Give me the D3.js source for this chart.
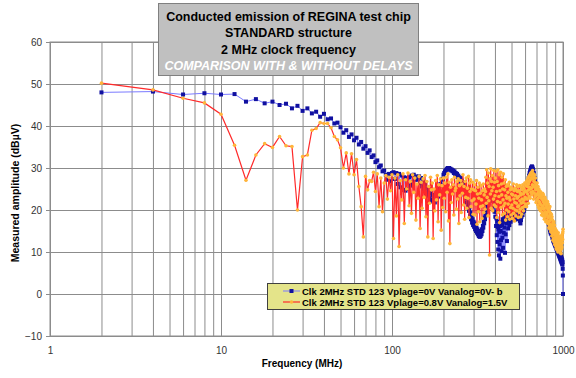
<!DOCTYPE html>
<html>
<head>
<meta charset="utf-8">
<script src="https://cdn.jsdelivr.net/npm/d3@7"></script>
<style>
  body { margin: 0; background: #fff; }
  svg { display: block; font-family: "Liberation Sans", Arial, sans-serif; }
</style>
</head>
<body>
<div id="chart"></div>
<script>
// points are the harmonics of the 2 MHz clock: 2, 4, 6 ... 1000 MHz
const clockMHz = 2;

// Clk 2MHz STD 123 Vplage=0V Vanalog=0V- b  (dBµV)
const blueValues = [
  48.0, 48.2, 47.5, 47.8, 47.5, 47.6, 45.8, 46.4, 45.4, 45.8, 45.0, 45.3, 44.2, 44.8, 43.6, 44.2, 43.0, 43.4, 42.2, 42.9, 41.6, 41.8, 40.6, 40.8, 39.7,
  38.4, 39.0, 37.4, 38.0, 36.6, 37.2, 35.6, 36.2, 34.6, 35.2, 33.6, 34.2, 32.6, 33.0, 31.4, 31.8, 30.2, 30.6, 29.2, 29.4, 28.4, 27.2, 28.6, 26.8, 28.8,
  29.0, 27.4, 28.8, 26.2, 28.6, 25.4, 28.2, 24.8, 27.8, 24.6, 27.6, 25.0, 27.8, 25.8, 28.2, 26.6, 28.4, 27.2, 28.0, 27.6, 27.2, 28.0, 26.4, 27.6, 25.6,
  27.0, 24.8, 26.2, 24.0, 25.2, 23.4, 24.6, 22.8, 24.0, 22.4, 23.6, 22.0, 23.2, 21.8, 23.4, 22.4, 24.0, 23.2, 25.0, 24.4, 26.2, 25.8, 27.4, 27.2, 28.4,
  28.8, 29.2, 29.4, 29.6, 29.8, 30.0, 29.8, 30.0, 29.6, 29.8, 29.4, 29.6, 29.2, 29.4, 28.8, 29.2, 28.6, 28.8, 28.2, 28.6, 27.8, 28.2, 27.4, 27.8, 27.0,
  27.6, 26.4, 27.0, 25.8, 26.2, 24.8, 25.4, 23.6, 24.6, 22.8, 23.6, 21.8, 22.8, 20.8, 21.6, 19.8, 20.6, 18.6, 19.4, 17.8, 18.6, 17.0, 17.8, 16.4, 17.2,
  16.0, 16.8, 15.4, 16.2, 15.0, 15.8, 14.6, 15.4, 14.2, 15.0, 13.8, 14.6, 13.6, 14.4, 13.8, 14.8, 14.2, 15.4, 15.0, 16.2, 15.8, 17.2, 16.8, 18.2, 17.8,
  19.0, 18.8, 20.2, 19.8, 21.4, 20.8, 22.4, 21.6, 23.2, 22.4, 24.0, 23.0, 24.6, 23.4, 25.0, 23.8, 24.8, 23.0, 24.2, 22.2, 23.2, 21.0, 22.0, 19.6, 20.8,
  18.4, 19.6, 16.2, 18.0, 14.0, 17.2, 12.4, 16.0, 10.6, 15.4, 9.2, 14.8, 11.8, 16.2, 8.4, 15.0, 12.8, 17.0, 10.2, 16.4, 13.4, 17.8, 11.0, 17.2, 14.6,
  18.6, 15.8, 19.0, 9.8, 18.2, 14.2, 19.4, 16.8, 20.0, 12.6, 19.2, 17.4, 20.4, 15.6, 19.8, 18.0, 20.6, 16.4, 21.0, 18.8, 20.2, 17.2, 21.2, 19.0, 20.4,
  21.4, 19.2, 20.8, 18.4, 21.6, 19.8, 22.0, 18.8, 21.2, 17.6, 20.4, 18.2, 21.0, 19.6, 21.8, 20.2, 22.2, 19.4, 21.4, 18.6, 20.6, 17.8, 19.8, 18.4, 20.2,
  19.0, 20.8, 18.2, 20.2, 17.4, 19.6, 16.8, 19.2, 17.6, 19.8, 18.4, 20.4, 19.2, 21.0, 18.8, 20.6, 19.6, 21.4, 20.2, 21.8, 19.8, 21.2, 20.6, 22.2, 21.4,
  22.0, 21.2, 22.8, 22.0, 23.6, 22.8, 24.4, 23.6, 25.2, 24.4, 26.0, 25.0, 26.8, 25.8, 27.6, 26.6, 28.2, 27.4, 28.8, 28.0, 29.2, 28.6, 29.6, 29.0, 30.0,
  29.6, 30.2, 29.8, 30.4, 30.0, 30.2, 29.6, 29.8, 29.2, 29.4, 28.6, 28.8, 28.0, 28.2, 27.4, 27.6, 26.8, 27.0, 26.2, 26.4, 25.6, 25.8, 25.0, 25.2, 24.6,
  24.2, 24.6, 23.8, 24.2, 23.2, 23.8, 22.8, 23.4, 22.4, 23.0, 22.0, 22.6, 21.6, 22.4, 21.8, 22.6, 22.0, 23.0, 22.2, 23.2, 22.4, 23.0, 22.0, 22.6, 21.6,
  22.2, 21.4, 22.0, 21.0, 21.8, 20.8, 21.6, 20.6, 21.4, 20.4, 21.2, 20.2, 21.0, 20.0, 20.8, 19.8, 20.6, 19.6, 20.4, 19.4, 20.2, 19.2, 20.0, 19.0, 19.8,
  19.2, 18.8, 19.6, 18.4, 19.2, 18.0, 18.8, 17.6, 18.4, 17.2, 18.0, 16.8, 17.6, 16.4, 17.2, 16.0, 16.8, 15.6, 16.4, 15.2, 16.0, 14.8, 15.6, 14.4, 15.2,
  14.8, 15.6, 14.4, 15.2, 14.0, 14.8, 13.8, 14.6, 13.4, 14.2, 13.2, 14.0, 12.8, 13.8, 12.6, 13.4, 12.4, 13.2, 12.2, 13.0, 12.0, 12.8, 11.8, 12.6, 11.6,
  12.4, 11.4, 12.2, 11.2, 12.0, 11.0, 11.8, 10.8, 11.6, 10.6, 11.4, 10.4, 11.2, 10.2, 11.0, 10.0, 10.8, 9.8, 10.6, 9.6, 10.4, 9.4, 10.2, 9.2, 10.0,
  9.0, 9.8, 8.8, 9.6, 8.6, 9.4, 8.4, 9.2, 8.2, 9.0, 8.0, 8.8, 7.8, 8.6, 7.6, 8.4, 7.4, 8.2, 7.2, 8.0, 7.0, 7.6, 6.0, 4.4, 0.0
];

// Clk 2MHz STD 123 Vplage=0.8V Vanalog=1.5V  (dBµV)
const orangeValues = [
  50.2, 48.6, 46.6, 45.5, 42.8, 35.4, 27.1, 33.1, 35.8, 34.9, 37.5, 35.3, 35.1, 20.0, 32.7, 33.1, 39.0, 39.4, 40.8, 40.6, 40.6, 39.6, 37.5, 36.7, 34.8,
  30.0, 33.6, 28.6, 33.4, 28.4, 32.0, 25.6, 20.8, 13.6, 28.0, 24.8, 27.0, 26.8, 29.0, 24.4, 28.6, 20.8, 27.6, 19.6, 26.4, 28.2, 22.6, 27.8, 24.6, 28.4,
  13.2, 27.6, 18.6, 28.4, 11.3, 27.0, 22.4, 28.6, 16.8, 27.2, 25.0, 28.8, 21.0, 26.8, 19.2, 28.4, 24.2, 27.6, 17.6, 26.2, 22.8, 28.0, 15.6, 26.6, 20.4,
  27.4, 23.0, 28.2, 18.4, 26.8, 13.6, 25.6, 21.6, 27.8, 24.8, 26.4, 13.2, 25.0, 19.8, 27.0, 22.4, 28.2, 17.2, 26.0, 23.6, 27.4, 15.2, 25.8, 20.6, 27.6,
  22.8, 26.4, 19.6, 27.8, 24.2, 28.6, 17.4, 26.6, 12.0, 25.4, 21.8, 27.2, 23.8, 26.0, 18.8, 27.8, 24.6, 25.2, 20.2, 26.8, 22.6, 27.4, 16.8, 25.8, 23.4,
  27.0, 19.4, 26.2, 24.0, 28.4, 21.2, 25.6, 17.8, 26.8, 23.0, 27.6, 20.4, 25.2, 22.8, 28.0, 18.2, 26.4, 24.4, 27.2, 20.8, 25.0, 22.2, 26.6, 19.0, 24.8,
  22.6, 26.0, 18.8, 24.6, 21.4, 27.0, 16.6, 23.8, 25.4, 19.6, 22.8, 26.4, 17.2, 24.0, 20.8, 25.8, 22.4, 18.0, 24.6, 21.0, 26.2, 19.4, 23.6, 25.0, 20.2,
  24.4, 27.8, 21.6, 29.6, 23.0, 26.4, 18.6, 28.8, 22.2, 25.6, 9.3, 27.4, 23.8, 29.8, 20.4, 26.8, 24.6, 28.2, 19.8, 25.4, 22.6, 29.4, 21.2, 26.6, 23.4,
  27.6, 20.8, 29.2, 24.4, 18.2, 26.8, 22.0, 29.6, 19.4, 25.8, 23.2, 28.4, 17.0, 24.6, 21.8, 29.0, 20.6, 26.2, 23.6, 27.8, 18.8, 25.0, 22.4, 28.6, 21.0,
  26.4, 19.2, 24.8, 21.6, 27.2, 17.6, 23.4, 25.6, 20.0, 22.8, 26.0, 18.4, 24.2, 21.4, 25.8, 19.6, 23.0, 26.6, 17.8, 22.4, 24.8, 20.6, 25.4, 18.8, 23.8,
  21.2, 25.0, 18.0, 23.6, 20.4, 26.2, 19.2, 22.6, 24.6, 17.4, 21.8, 25.2, 20.0, 23.4, 18.6, 24.8, 21.6, 26.0, 19.8, 22.8, 24.4, 20.8, 25.6, 18.2, 23.2,
  21.0, 24.6, 19.4, 25.8, 22.2, 20.2, 24.0, 18.4, 23.6, 21.6, 25.4, 19.0, 22.6, 24.8, 20.6, 26.0, 21.8, 23.8, 19.8, 25.2, 22.4, 24.2, 20.8, 26.4, 23.0,
  24.6, 21.4, 25.8, 22.8, 26.6, 20.8, 24.4, 27.0, 22.6, 25.6, 23.8, 27.6, 21.6, 26.2, 24.8, 28.0, 23.2, 26.8, 25.4, 28.4, 22.8, 27.2, 25.0, 28.8, 24.2,
  27.6, 25.2, 29.0, 23.6, 28.2, 26.0, 29.4, 24.4, 27.4, 25.8, 28.6, 22.6, 26.8, 27.8, 24.0, 28.4, 25.4, 26.6, 23.2, 27.6, 24.8, 26.2, 21.8, 25.8, 23.6,
  25.2, 22.4, 26.4, 23.8, 24.8, 21.2, 25.6, 22.8, 24.2, 20.6, 25.0, 23.4, 22.0, 24.6, 20.2, 23.8, 21.6, 24.4, 19.8, 23.2, 21.2, 24.0, 20.4, 22.8, 18.8,
  23.4, 20.6, 22.6, 19.4, 24.0, 21.0, 22.2, 18.6, 23.6, 20.2, 21.8, 19.0, 22.8, 17.8, 21.4, 20.4, 23.0, 18.4, 21.6, 19.6, 22.4, 17.2, 20.8, 19.2, 21.8,
  18.8, 21.2, 17.6, 20.6, 19.4, 22.0, 16.8, 20.2, 18.2, 21.4, 17.0, 19.8, 15.8, 20.4, 18.6, 16.4, 19.6, 17.4, 20.8, 15.4, 18.8, 16.6, 19.2, 14.8, 18.0,
  16.0, 19.0, 15.0, 17.8, 13.8, 18.4, 16.2, 14.4, 17.6, 15.6, 12.8, 17.0, 14.6, 16.6, 13.2, 15.8, 17.2, 12.4, 15.2, 14.0, 16.4, 11.8, 14.8, 13.4, 15.6,
  12.6, 14.4, 11.4, 15.2, 13.0, 10.8, 14.0, 12.2, 15.0, 11.0, 13.6, 12.8, 10.4, 14.2, 11.8, 13.4, 10.0, 12.6, 14.6, 11.2, 13.0, 10.6, 12.4, 11.6, 13.8,
  11.4, 12.8, 10.2, 13.6, 11.0, 12.2, 9.8, 13.0, 11.6, 10.6, 12.4, 9.6, 11.8, 13.2, 10.8, 12.0, 14.0, 11.2, 12.8, 13.6, 12.2, 14.4, 13.0, 14.8, 15.4
];

const yTicks = [-10, 0, 10, 20, 30, 40, 50, 60];
const xTickLabels = [1, 10, 100, 1000];
const titleLines = [
  'Conducted emission of REGINA test chip',
  'STANDARD structure',
  '2 MHz clock frequency'
];
const subTitle = 'COMPARISON WITH & WITHOUT DELAYS';
const legendLabels = [
  'Clk 2MHz STD 123 Vplage=0V Vanalog=0V- b',
  'Clk 2MHz STD 123 Vplage=0.8V Vanalog=1.5V'
];

const W = 576, H = 378;
const margin = { top: 42, right: 13, bottom: 42, left: 50 };
const width = W - margin.left - margin.right;
const height = H - margin.top - margin.bottom;

const svg = d3.select('#chart').append('svg')
  .attr('width', W)
  .attr('height', H);

const g = svg.append('g')
  .attr('transform', 'translate(' + margin.left + ',' + margin.top + ')');

const x = d3.scaleLog().domain([1, 1000]).range([0, width]);
const y = d3.scaleLinear().domain([-10, 60]).range([height, 0]);

const toPoints = vals => vals.map((v, i) => ({ f: clockMHz * (i + 1), v: v }));
const blue = toPoints(blueValues);
const orange = toPoints(orangeValues);

// grid
g.append('g')
  .attr('class', 'grid')
  .attr('transform', 'translate(0,' + height + ')')
  .call(d3.axisBottom(x).tickValues(x.ticks()).tickSize(-height).tickFormat(''))
  .call(s => s.select('.domain').remove());
g.append('g')
  .attr('class', 'grid')
  .call(d3.axisLeft(y).tickValues(yTicks).tickSize(-width).tickFormat(''))
  .call(s => s.select('.domain').remove());
g.selectAll('.grid line').attr('stroke', '#8c8c8c').attr('stroke-width', 1);

g.append('rect')
  .attr('width', width)
  .attr('height', height)
  .attr('fill', 'none')
  .attr('stroke', '#8c8c8c');

// axes
const yAxis = g.append('g')
  .call(d3.axisLeft(y).tickValues(yTicks).tickSize(4).tickPadding(4));
yAxis.select('.domain').attr('stroke', '#8c8c8c');
yAxis.selectAll('line').attr('stroke', '#8c8c8c');
yAxis.selectAll('text').attr('font-size', 10).attr('fill', '#333');

const xAxis = g.append('g')
  .attr('transform', 'translate(0,' + height + ')')
  .call(d3.axisBottom(x).tickValues(xTickLabels).tickSize(0).tickPadding(11).tickFormat(d3.format('d')));
xAxis.select('.domain').attr('stroke', '#8c8c8c');
xAxis.selectAll('text').attr('font-size', 10).attr('fill', '#333');

// series
const line = d3.line().x(d => x(d.f)).y(d => y(d.v));

g.append('path')
  .datum(blue)
  .attr('d', line)
  .attr('fill', 'none')
  .attr('stroke', '#7b7bff')
  .attr('stroke-width', 1);

g.selectAll('.bluePt')
  .data(blue)
  .enter().append('rect')
  .attr('class', 'bluePt')
  .attr('x', d => x(d.f) - 2)
  .attr('y', d => y(d.v) - 2)
  .attr('width', 4)
  .attr('height', 4)
  .attr('fill', '#1010a0');

g.append('path')
  .datum(orange)
  .attr('d', line)
  .attr('fill', 'none')
  .attr('stroke', '#ff2a2a')
  .attr('stroke-width', 1.2);

g.selectAll('.orangePt')
  .data(orange)
  .enter().append('circle')
  .attr('class', 'orangePt')
  .attr('cx', d => x(d.f))
  .attr('cy', d => y(d.v))
  .attr('r', 1.8)
  .attr('fill', '#ffb53a');

// axis titles
svg.append('text')
  .attr('transform', 'translate(19,' + (margin.top + height / 2 + 4) + ') rotate(-90)')
  .attr('text-anchor', 'middle')
  .attr('font-size', 10.5)
  .attr('font-weight', 'bold')
  .text('Measured amplitude (dBµV)');

svg.append('text')
  .attr('x', 302)
  .attr('y', 367)
  .attr('text-anchor', 'middle')
  .attr('font-size', 10)
  .attr('font-weight', 'bold')
  .text('Frequency (MHz)');

// title box
svg.append('rect')
  .attr('x', 158.5)
  .attr('y', 3.5)
  .attr('width', 260)
  .attr('height', 72)
  .attr('fill', '#c0c0c0')
  .attr('stroke', '#808080');

svg.selectAll('.title')
  .data(titleLines)
  .enter().append('text')
  .attr('class', 'title')
  .attr('x', 288.5)
  .attr('y', (d, i) => 20.5 + i * 16.5)
  .attr('text-anchor', 'middle')
  .attr('font-size', 12.5)
  .attr('font-weight', 'bold')
  .attr('fill', '#000')
  .text(d => d);

svg.append('text')
  .attr('x', 288.5)
  .attr('y', 70)
  .attr('text-anchor', 'middle')
  .attr('font-size', 12.5)
  .attr('font-weight', 'bold')
  .attr('font-style', 'italic')
  .attr('fill', '#fff')
  .text(subTitle);

// legend
const legend = svg.append('g').attr('transform', 'translate(267,283)');
legend.append('rect')
  .attr('x', 0.5)
  .attr('y', 0.5)
  .attr('width', 252)
  .attr('height', 26)
  .attr('fill', '#e4e48a')
  .attr('stroke', '#404040');

const legendRows = legend.selectAll('.row')
  .data(legendLabels)
  .enter().append('g')
  .attr('class', 'row')
  .attr('transform', (d, i) => 'translate(0,' + (8 + i * 11) + ')');

legendRows.append('line')
  .attr('x1', 16).attr('x2', 33)
  .attr('y1', 0).attr('y2', 0)
  .attr('stroke', (d, i) => i === 0 ? '#7b7bff' : '#ff2a2a')
  .attr('stroke-width', (d, i) => i === 0 ? 1 : 1.2);

legendRows.each(function (d, i) {
  const r = d3.select(this);
  if (i === 0) {
    r.append('rect').attr('x', 22.5).attr('y', -2).attr('width', 4).attr('height', 4).attr('fill', '#1010a0');
  } else {
    r.append('circle').attr('cx', 24.5).attr('cy', 0).attr('r', 1.8).attr('fill', '#ffb53a');
  }
});

legendRows.append('text')
  .attr('x', 35)
  .attr('y', 3.5)
  .attr('font-size', 9.5)
  .attr('font-weight', 'bold')
  .text(d => d);
</script>
</body>
</html>
